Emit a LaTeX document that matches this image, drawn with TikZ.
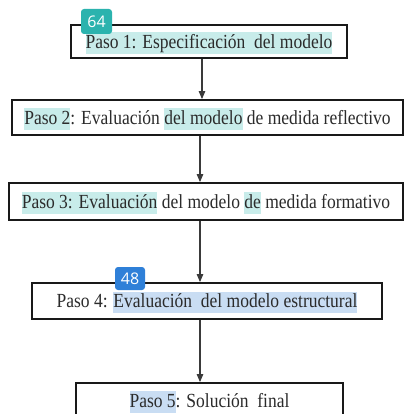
\documentclass[tikz,border=0pt]{standalone}
\usepackage{fontspec}
\setmainfont{Liberation Serif}[FakeStretch=0.875]
\newfontfamily\badgefont{Open Sans}
\usetikzlibrary{arrows.meta}
\definecolor{hlteal}{HTML}{C8ECEA}
\definecolor{hlblue}{HTML}{C9DDF3}
\definecolor{badgeteal}{HTML}{2BB3AE}
\definecolor{badgeblue}{HTML}{2F80D8}
\definecolor{txt}{HTML}{2B2B2B}
\definecolor{arrowgray}{HTML}{3A3A3A}
\newsavebox\hlsave
\newcommand\hlmark[2]{\sbox\hlsave{#2}\rlap{\textcolor{#1}{\rule[-0.285em]{\wd\hlsave}{1.085em}}}\usebox\hlsave}
\tikzset{
  stepbox/.style={draw=black!90, line width=1.8pt, fill=white, inner sep=0pt,
    text=txt, font=\fontsize{20}{24}\selectfont, text height=13.2pt, text depth=0pt},
  flowarrow/.style={draw=arrowgray, line width=1.1pt, -{Triangle[width=6.5pt,length=8pt]}},
  badge/.style={rounded corners=3pt, inner sep=0pt, text=white,
    font=\badgefont\fontsize{16}{18}\selectfont}
}
\begin{document}
\begin{tikzpicture}[x=1pt,y=-1pt]
\useasboundingbox (0,0) rectangle (404,414);
\node[stepbox, minimum width=276pt, minimum height=33pt] (b1) at (209,41.5)
  {\hlmark{hlteal}{Paso 1: Especificación\ \ del modelo}};
\node[stepbox, minimum width=391pt, minimum height=35pt] (b2) at (207.5,117.5)
  {\hlmark{hlteal}{Paso 2}: Evaluación \hlmark{hlteal}{del modelo} de medida reflectivo};
\node[stepbox, minimum width=394pt, minimum height=37pt] (b3) at (206,201.5)
  {\hlmark{hlteal}{Paso 3: Evaluación} del modelo \hlmark{hlteal}{de} medida formativo};
\node[stepbox, minimum width=350pt, minimum height=36pt] (b4) at (207,301)
  {Paso 4: \hlmark{hlblue}{Evaluación\ \ del modelo estructural}};
\node[stepbox, minimum width=267pt, minimum height=35pt] (b5) at (209.5,400.5)
  {\hlmark{hlblue}{Paso 5}: Solución\ \ final};
\coordinate (ax1) at (202,0);
\coordinate (ax2) at (200,0);
\draw[flowarrow] (b1.south -| ax1) -- (b2.north -| ax1);
\draw[flowarrow] (b2.south -| ax2) -- (b3.north -| ax2);
\draw[flowarrow] (b3.south -| ax2) -- (b4.north -| ax2);
\draw[flowarrow] (b4.south -| ax2) -- (b5.north -| ax2);
\node[badge, fill=badgeteal, minimum width=31pt, minimum height=25pt] (g1) at (96.5,21.5) {64};
\node[badge, fill=badgeblue, minimum width=30pt, minimum height=23pt] (g2) at (130,278.5) {48};
\end{tikzpicture}
\end{document}
